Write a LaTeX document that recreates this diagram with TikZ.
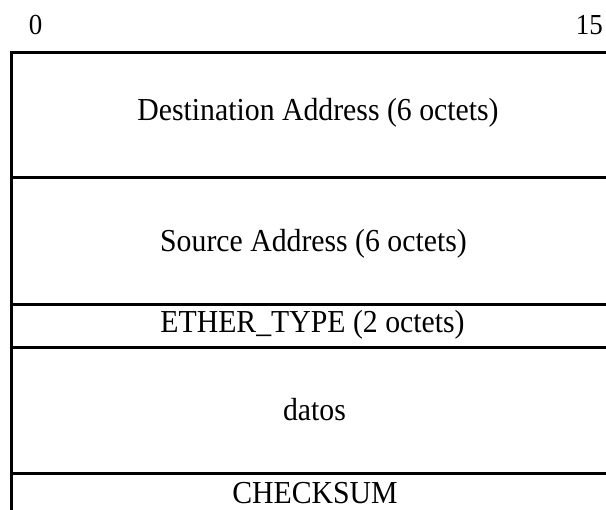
\documentclass[tikz,border=0pt]{standalone}
\usepackage{fontspec}
\setmainfont{Liberation Serif}[FakeStretch=0.93]
\begin{document}
\begin{tikzpicture}[x=1pt,y=-1pt,
  rule/.style={line width=3pt},
  field/.style={font=\fontsize{32}{36}\selectfont, inner sep=0pt, anchor=base},
  bitlabel/.style={font=\fontsize{29}{32}\selectfont, inner sep=0pt, anchor=base}]
\useasboundingbox (0,0) rectangle (606,510);
% frame
\coordinate (tl) at (10,52.5);
\coordinate (tr) at (606,52.5);
\coordinate (bl) at (11.5,510);
\coordinate (h1l) at (11.5,178);   \coordinate (h1r) at (606,178);
\coordinate (h2l) at (11.5,304.5); \coordinate (h2r) at (606,304.5);
\coordinate (h3l) at (11.5,348);   \coordinate (h3r) at (606,348);
\coordinate (h4l) at (11.5,474);   \coordinate (h4r) at (606,474);
\draw[rule] (tl) -- (tr);
\draw[rule] (11.5,52.5) -- (bl);
\draw[rule] (h1l) -- (h1r);
\draw[rule] (h2l) -- (h2r);
\draw[rule] (h3l) -- (h3r);
\draw[rule] (h4l) -- (h4r);
% bit labels
\node[bitlabel] (b0) at (35.5,35) {0};
\node[bitlabel, anchor=base east] (b15) at (603,35) {15};
% fields
\node[field] (dst) at (318,120.5) {Destination Address (6 octets)};
\node[field] (src) at (313.5,251.5) {Source Address (6 octets)};
\node[field] (eth) at (312.5,333) {ETHER\_TYPE (2 octets)};
\node[field] (dat) at (314.5,420.5) {datos};
\node[field] (chk) at (315,504) {CHECKSUM};
\end{tikzpicture}
\end{document}
